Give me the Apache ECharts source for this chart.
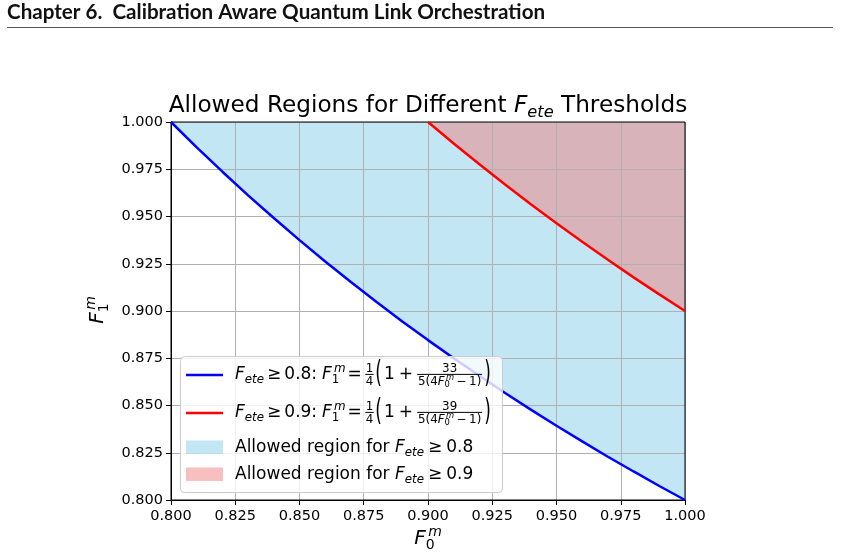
<!DOCTYPE html>
<html>
<head>
<meta charset="utf-8">
<script src="https://cdn.jsdelivr.net/npm/echarts@6/dist/echarts.min.js"></script>
<style>
html,body{margin:0;padding:0;background:#fff;}
#chart{width:841px;height:558px;}
</style>
</head>
<body>
<div id="chart"></div>
<script>
// ---- data ----
const xBlue = [0.80,0.81,0.82,0.83,0.84,0.85,0.86,0.87,0.88,0.89,0.90,0.91,0.92,0.93,0.94,0.95,0.96,0.97,0.98,0.99,1.00];
const yBlue = [1.0000,0.9866,0.9737,0.9612,0.9492,0.9375,0.9262,0.9153,0.9048,0.8945,0.8846,0.8750,0.8657,0.8566,0.8478,0.8393,0.8310,0.8229,0.8151,0.8074,0.8000];
const xRed = [0.90,0.91,0.92,0.93,0.94,0.95,0.96,0.97,0.98,0.99,1.00];
const yRed = [1.0000,0.9886,0.9776,0.9669,0.9565,0.9464,0.9366,0.9271,0.9178,0.9088,0.9000];
const axisMin = 0.8, axisMax = 1.0, axisStep = 0.025;
const headerText = 'Chapter 6.  Calibration Aware Quantum Link Orchestration';

const bluePts = xBlue.map((x,i)=>[x,yBlue[i]]);
const redPts = xRed.map((x,i)=>[x,yRed[i]]);

// ---- math text helper ----
const FONT = '"DejaVu Sans"';
const mctx = document.createElement('canvas').getContext('2d');
function fnt(s,it,b){ return (it?'italic ':'') + (b?'bold ':'') + s + 'px ' + FONT; }
function tw(t,s,it){ mctx.font = fnt(s,it); return mctx.measureText(t).width; }
const MID = 0.30;
function txt(t,x,base,s,it){
  return {type:'text', x:x, y:base - MID*s, z:100, silent:true,
    style:{text:t, font:fnt(s,it), fill:'#000', textAlign:'left', textVerticalAlign:'middle'}};
}
function layout(items,x0,base,out){
  let x = x0;
  for (const it of items){
    if (it.gap !== undefined){ x += it.gap; continue; }
    if (it.t !== undefined){ out.push(txt(it.t,x,base+(it.dy||0),it.s,it.it)); x += tw(it.t,it.s,it.it); continue; }
    if (it.ss){
      let w = 0;
      if (it.sup){ const dx = it.supDx||0; out.push(txt(it.sup,x+dx,base+it.supDy,it.ss,true)); w = Math.max(w, dx+tw(it.sup,it.ss,true)); }
      if (it.sub){ out.push(txt(it.sub,x,base+it.subDy,it.ss,it.subIt)); w = Math.max(w, tw(it.sub,it.ss,it.subIt)); }
      x += w; continue;
    }
    if (it.frac){
      const wn = measure(it.num), wd = measure(it.den);
      const W = Math.max(wn,wd) + 2*it.pad;
      const barY = base - it.axis;
      layout(it.num, x+(W-wn)/2, barY-it.ng, out);
      layout(it.den, x+(W-wd)/2, barY+it.dg, out);
      out.push({type:'line', z:100, silent:true, shape:{x1:x+it.pad*0.6,y1:barY,x2:x+W-it.pad*0.6,y2:barY}, style:{stroke:'#000',lineWidth:1}});
      x += W; continue;
    }
    if (it.paren){
      out.push({type:'text', x:x, y:base-it.axis, scaleY:it.sy, z:100, silent:true,
        style:{text:it.paren, font:fnt(it.s,false), fill:'#000', textAlign:'left', textVerticalAlign:'middle'}});
      x += tw(it.paren,it.s,false); continue;
    }
  }
  return x - x0;
}
function measure(items){ return layout(items,0,0,[]); }
function F(s,sup,sub,subIt){
  const ss = 0.7*s;
  return [{t:'F',s:s,it:true},{ss:ss,sup:sup,sub:sub,subIt:!!subIt,supDy:-0.42*s,subDy:0.22*s,supDx:0.12*s}];
}
function Fete(s){ return [{t:'F',s:s,it:true},{ss:0.7*s,sub:'ete',subIt:true,subDy:0.22*s}]; }

function legendFormula(s, thr, num){
  const fs = 0.7*s;
  return [].concat(
    Fete(s), [{gap:3},{t:'≥',s:s},{gap:3},{t:thr+':',s:s},{gap:5}],
    F(s,'m','1'), [{gap:2},{t:'=',s:s},{gap:3}],
    [{frac:true,pad:1,axis:0.33*s,ng:2,dg:2+0.73*fs,num:[{t:'1',s:fs}],den:[{t:'4',s:fs}]}],
    [{gap:1},{paren:'(',s:s,sy:1.75,axis:0.33*s},{gap:2},{t:'1',s:s},{gap:4},{t:'+',s:s},{gap:3}],
    [{frac:true,pad:2,axis:0.33*s,ng:2,dg:2+0.73*fs,num:[{t:num,s:fs}],
      den:[].concat([{t:'5(4',s:fs}],F(fs,'m','0'),[{gap:2.5},{t:'−',s:fs},{gap:2.5},{t:'1)',s:fs}])}],
    [{gap:1},{paren:')',s:s,sy:1.75,axis:0.33*s}]
  );
}
function legendRegion(s, thr){
  return [].concat([{t:'Allowed region for ',s:s}], Fete(s), [{gap:4},{t:'≥',s:s},{gap:4},{t:thr,s:s}]);
}

const gr = [];
// header
(function(){
  mctx.font = 'bold 100px Lato';
  const w100 = mctx.measureText(headerText).width;
  const size = 100*538/w100;
  gr.push({type:'text', x:7, y:22.5, z:100, silent:true, style:{text:headerText, font:'bold '+size.toFixed(2)+'px Lato', fill:'#111', textAlign:'left', textVerticalAlign:'bottom'}});
  gr.push({type:'line', z:100, silent:true, shape:{x1:7,y1:27.5,x2:833,y2:27.5}, style:{stroke:'#555',lineWidth:1.2}});
})();
// title
(function(){
  const s = 23.2;
  const items = [].concat([{t:'Allowed Regions for Different ',s:s}], Fete(s), [{t:' Thresholds',s:s}]);
  const w = measure(items);
  layout(items, 428 - w/2, 113, gr);
})();
// x label
(function(){
  const s = 20;
  const items = F(s,'m','0');
  const w = measure(items);
  layout(items, 428 - w/2, 545, gr);
})();
// y label (rotated)
(function(){
  const s = 20;
  const items = F(s,'m','1');
  const w = measure(items);
  const kids = [];
  layout(items, -w/2, 0, kids);
  gr.push({type:'group', x:104, y:310, rotation:Math.PI/2, children:kids});
})();
// legend
(function(){
  gr.push({type:'rect', z:90, silent:true, shape:{x:180.5,y:356.5,width:322,height:136,r:4}, style:{fill:'rgba(255,255,255,0.8)', stroke:'#cccccc', lineWidth:1}});
  gr.push({type:'line', z:95, silent:true, shape:{x1:186,y1:375,x2:223,y2:375}, style:{stroke:'#0000ff',lineWidth:2.5}});
  gr.push({type:'line', z:95, silent:true, shape:{x1:186,y1:413,x2:223,y2:413}, style:{stroke:'#ff0000',lineWidth:2.5}});
  gr.push({type:'rect', z:95, silent:true, shape:{x:186,y:440.5,width:37,height:13.5}, style:{fill:'rgba(135,206,235,0.5)'}});
  gr.push({type:'rect', z:95, silent:true, shape:{x:186,y:467.5,width:37,height:13.5}, style:{fill:'rgba(240,128,128,0.5)'}});
  const s = 17;
  layout(legendFormula(s,'0.8','33'), 235, 380, gr);
  layout(legendFormula(s,'0.9','39'), 235, 418, gr);
  layout(legendRegion(s,'0.8'), 235, 453, gr);
  layout(legendRegion(s,'0.9'), 235, 480, gr);
})();

const axisCommon = {
  type:'value', min:axisMin, max:axisMax, interval:axisStep, z:3,
  axisLine:{show:true, lineStyle:{color:'#000', width:1}},
  axisTick:{show:true, length:5, lineStyle:{color:'#000', width:1}},
  splitLine:{show:true, lineStyle:{color:'#b0b0b0', width:1}},
  axisLabel:{fontFamily:'DejaVu Sans', fontSize:14.5, color:'#000', formatter:v=>v.toFixed(3), showMinLabel:true, showMaxLabel:true}
};

const chart = echarts.init(document.getElementById('chart'), null, {renderer:'canvas'});
chart.setOption({
  animation:false,
  backgroundColor:'#fff',
  grid:{left:171, top:122, width:514, height:378, show:true, borderColor:'#000', borderWidth:1, z:4, backgroundColor:'transparent'},
  xAxis:Object.assign({}, axisCommon, {axisLabel:Object.assign({}, axisCommon.axisLabel, {margin:9})}),
  yAxis:Object.assign({}, axisCommon, {axisLabel:Object.assign({}, axisCommon.axisLabel, {margin:8})}),
  series:[
    {type:'line', data:bluePts, showSymbol:false, silent:true, z:1, lineStyle:{width:0}, areaStyle:{color:'rgba(135,206,235,0.5)', origin:'end', opacity:1}},
    {type:'line', data:redPts, showSymbol:false, silent:true, z:1, lineStyle:{width:0}, areaStyle:{color:'rgba(240,128,128,0.5)', origin:'end', opacity:1}},
    {type:'line', data:bluePts, showSymbol:false, silent:true, z:5, lineStyle:{color:'#0000ff', width:2.5}},
    {type:'line', data:redPts, showSymbol:false, silent:true, z:5, lineStyle:{color:'#ff0000', width:2.5}}
  ],
  graphic:{elements:gr}
});
</script>
</body>
</html>
